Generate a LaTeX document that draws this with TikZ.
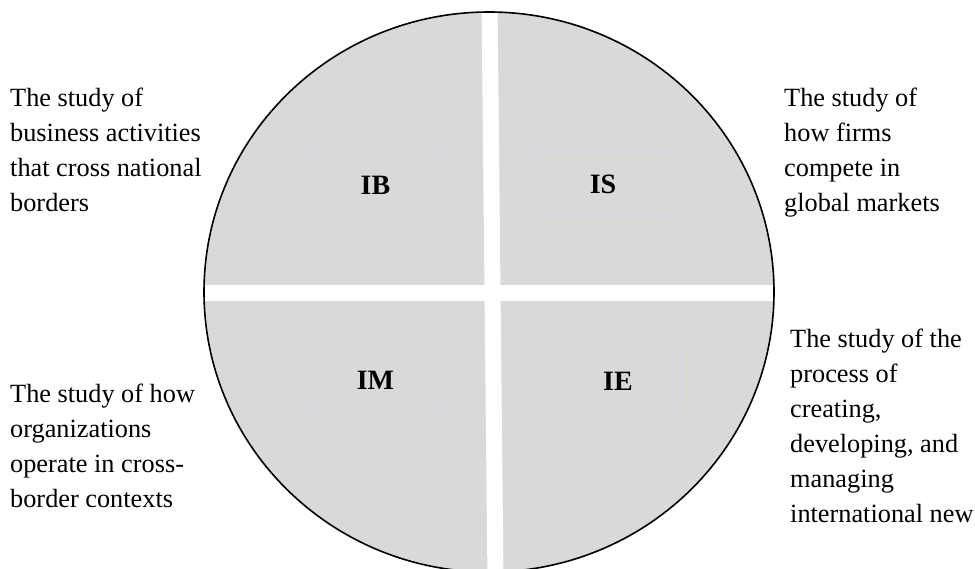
\documentclass[tikz,border=0pt]{standalone}
\usepackage{fontspec}
\setmainfont{Liberation Serif}
\definecolor{quadgray}{HTML}{D9D9D9}
\definecolor{boxline}{HTML}{D5DDE8}
\tikzset{
  quadlabel/.style={draw=boxline, fill=quadgray, minimum width=125pt, minimum height=64pt,
    inner sep=0pt, font=\fontsize{28}{32}\selectfont\bfseries},
  desc/.style={anchor=base west, align=left, inner sep=0pt, font=\fontsize{26.3}{35}\selectfont},
  gap/.style={white, line width=16pt}
}
\begin{document}
\begin{tikzpicture}[x=1pt, y=-1pt]
\useasboundingbox (0,0) rectangle (975,569);

% circle split into four quarters
\coordinate (c) at (489,292);
\fill[quadgray] (c) ellipse [x radius=285, y radius=280];
\begin{scope}
  \clip (c) ellipse [x radius=285, y radius=280];
  \coordinate (hl) at (150,293.5);
  \coordinate (hr) at (850,293.5);
  \coordinate (vt) at (489.5,0);
  \coordinate (vb) at (495.5,580);
  \draw[gap] (hl) -- (hr);
  \draw[gap] (vt) -- (vb);
\end{scope}
\draw[line width=1.6pt] (c) ellipse [x radius=285, y radius=280];

% quarter labels
\node[quadlabel] (IB) at (375.5,185) {IB};
\node[quadlabel] (IS) at (603,184) {IS};
\node[quadlabel] (IM) at (375.5,380.5) {IM};
\node[quadlabel] (IE) at (618,381) {IE};

% descriptions (placed at the baseline of the last line)
\node[desc] (dIB) at (10,212) {The study of\\business activities\\that cross national\\borders};
\node[desc] (dIS) at (784,212) {The study of\\how firms\\compete in\\global markets};
\node[desc] (dIM) at (10,507) {The study of how\\organizations\\operate in cross-\\border contexts};
\node[desc] (dIE) at (790,522) {The study of the\\process of\\creating,\\developing, and\\managing\\international new};

\end{tikzpicture}
\end{document}
